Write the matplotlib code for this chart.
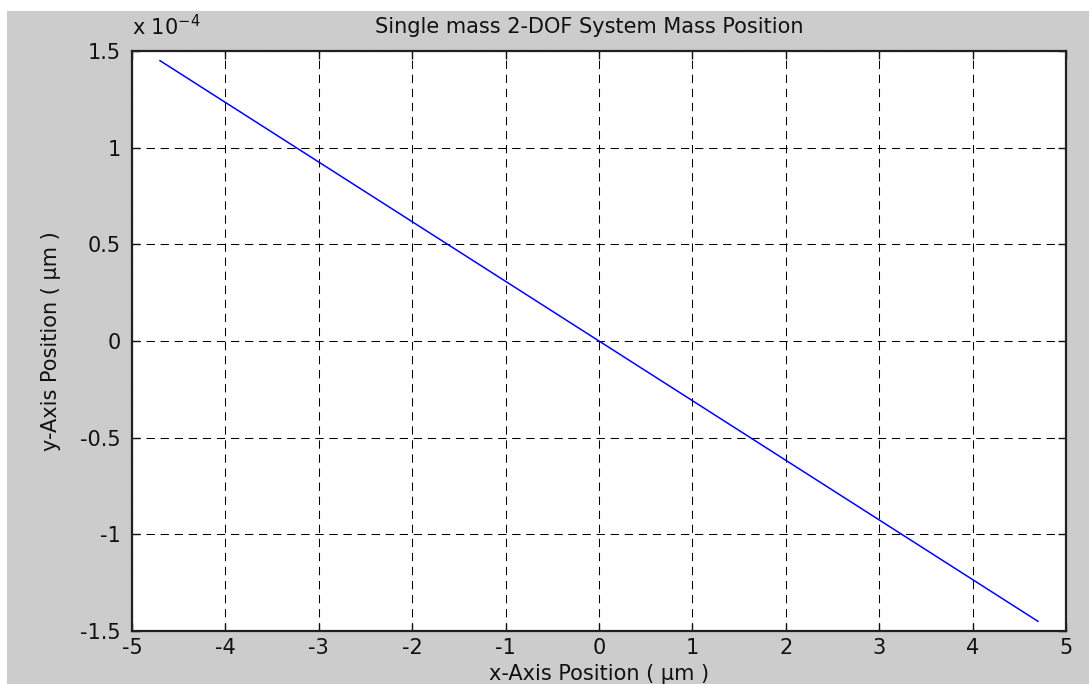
import matplotlib
matplotlib.use("Agg")
import matplotlib.pyplot as plt
from matplotlib.patches import Rectangle
from matplotlib.ticker import FuncFormatter

# Mass trajectory endpoints (x in um, y in um)
x_pos = [-4.7, 4.7]
y_pos = [1.45e-4, -1.45e-4]

x_ticks = [-5, -4, -3, -2, -1, 0, 1, 2, 3, 4, 5]
y_ticks = [-1.5e-4, -1e-4, -0.5e-4, 0, 0.5e-4, 1e-4, 1.5e-4]

plt.rcParams["font.family"] = ["DejaVu Sans"]
plt.rcParams["font.size"] = 15
plt.rcParams["mathtext.fontset"] = "dejavusans"

W, H = 1089, 684
fig = plt.figure(figsize=(W / 100, H / 100), dpi=100, facecolor="white")

# gray figure panel, leaving a thin white strip on top and left
fig.patches.append(Rectangle((7 / W, 0), 1, 1 - 11 / H, transform=fig.transFigure,
                             facecolor="#cccccc", edgecolor="none", zorder=-10))

ax = fig.add_axes([132 / W, 1 - 631 / H, (1066 - 132) / W, (631 - 51) / H])
ax.set_facecolor("white")

ax.plot(x_pos, y_pos, color="#0000ff", lw=1.1, zorder=3)

ax.set_xlim(-5, 5)
ax.set_ylim(-1.5e-4, 1.5e-4)
ax.set_xticks(x_ticks)
ax.set_yticks(y_ticks)
ax.xaxis.set_major_formatter(FuncFormatter(lambda v, p: f"{v:g}"))
ax.yaxis.set_major_formatter(FuncFormatter(lambda v, p: f"{v / 1e-4:g}"))

ax.grid(True, color="black", linestyle=(0, (8, 5.5)), linewidth=0.75)
ax.tick_params(direction="in", length=6, width=1, top=True, right=True,
               pad=5, labelsize=15, colors="#111111")
ax.tick_params(axis="y", pad=8)
for sp in ax.spines.values():
    sp.set_linewidth(1.6)
    sp.set_color("#202020")

ax.text(0.0, 1.02, r"x 10$^{-4}$", transform=ax.transAxes, ha="left",
        va="bottom", fontsize=15, color="#111111")

ax.set_title("Single mass 2-DOF System Mass Position", fontsize=15, pad=13,
             color="#111111", x=0.49)
ax.set_xlabel("x-Axis Position ( \u00b5m )", fontsize=15, labelpad=4, color="#111111")
ax.set_ylabel("y-Axis Position ( \u00b5m )", fontsize=15, labelpad=14, color="#111111")

fig.savefig("out.png", dpi=100, facecolor=fig.get_facecolor())
